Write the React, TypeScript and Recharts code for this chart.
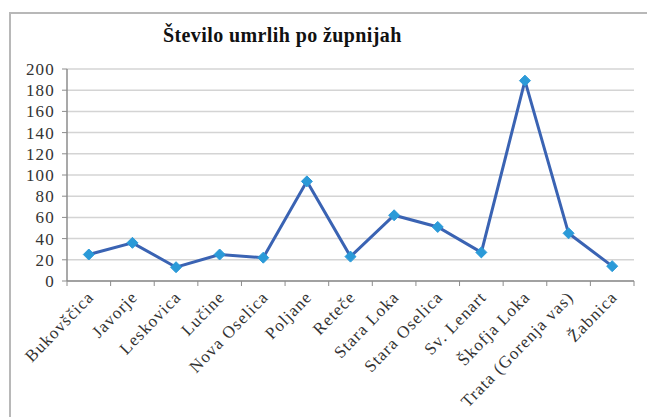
import { LineChart, Line, XAxis, YAxis, CartesianGrid } from 'recharts';

const parishes = [
  'Bukovščica',
  'Javorje',
  'Leskovica',
  'Lučine',
  'Nova Oselica',
  'Poljane',
  'Reteče',
  'Stara Loka',
  'Stara Oselica',
  'Sv. Lenart',
  'Škofja Loka',
  'Trata (Gorenja vas)',
  'Žabnica',
];
const deaths = [25, 36, 13, 25, 22, 94, 23, 62, 51, 27, 189, 45, 14];
const yTicks = [0, 20, 40, 60, 80, 100, 120, 140, 160, 180, 200];

const data = parishes.map((name, i) => ({ name, value: deaths[i] }));

const FONT = '"Liberation Serif", "Times New Roman", serif';
const AXIS_GRAY = '#8c8c8c';

const Diamond = (props: any) => {
  const { cx, cy } = props;
  if (cx == null || cy == null) return null;
  const r = 5.5;
  return (
    <polygon
      points={`${cx},${cy - r} ${cx + r},${cy} ${cx},${cy + r} ${cx - r},${cy}`}
      fill="#2b9ad8"
      stroke="#2b9ad8"
    />
  );
};

const XTick = (props: any) => {
  const { x, y, payload, index, visibleTicksCount } = props;
  const off = payload?.offset ?? 21.8;
  const last = index === (visibleTicksCount ?? parishes.length) - 1;
  const tx = x + 6;
  const ty = y + 17;
  return (
    <g>
      <line x1={x - off} x2={x - off} y1={y} y2={y + 5} stroke={AXIS_GRAY} />
      {last && <line x1={x + off} x2={x + off} y1={y} y2={y + 5} stroke={AXIS_GRAY} />}
      <text
        x={tx}
        y={ty}
        textAnchor="end"
        transform={`rotate(-46, ${tx}, ${ty})`}
        fontFamily={FONT}
        fontSize={17}
        letterSpacing={1.1}
        fill="#333"
      >
        {payload.value}
      </text>
    </g>
  );
};

export default function App() {
  return (
    <div
      style={{
        position: 'absolute',
        left: 0,
        top: 0,
        width: 647,
        height: 417,
        overflow: 'hidden',
        background: '#fff',
      }}
    >
      <div
        style={{
          position: 'absolute',
          left: 9,
          top: 12,
          width: 640,
          height: 420,
          border: '2px solid #b8b8b8',
        }}
      />
      <div
        style={{
          position: 'absolute',
          left: 163,
          top: 24,
          fontFamily: FONT,
          fontWeight: 'bold',
          fontSize: 20,
          letterSpacing: 0.4,
          color: '#111',
          whiteSpace: 'nowrap',
        }}
      >
        Število umrlih po župnijah
      </div>
      <div style={{ position: 'absolute', left: 0, top: 0 }}>
        <LineChart width={647} height={417} data={data} margin={{ top: 69, right: 13, bottom: 0, left: 0 }}>
          <CartesianGrid vertical={false} stroke="#d4d4d4" strokeWidth={1.5} />
          <XAxis
            dataKey="name"
            scale="band"
            height={136}
            interval={0}
            tickSize={0}
            tickMargin={0}
            tickLine={false}
            axisLine={{ stroke: AXIS_GRAY, strokeWidth: 1.5 }}
            tick={<XTick />}
          />
          <YAxis
            width={67}
            domain={[0, 200]}
            ticks={yTicks}
            interval={0}
            tickSize={5}
            tickMargin={7}
            tickLine={{ stroke: AXIS_GRAY }}
            axisLine={{ stroke: AXIS_GRAY, strokeWidth: 1.5 }}
            tick={{ fontFamily: FONT, fontSize: 17, fill: '#333', letterSpacing: 1.2 }}
          />
          <Line
            dataKey="value"
            stroke="#3a63b3"
            strokeWidth={3}
            dot={<Diamond />}
            activeDot={false}
            isAnimationActive={false}
          />
        </LineChart>
      </div>
    </div>
  );
}
